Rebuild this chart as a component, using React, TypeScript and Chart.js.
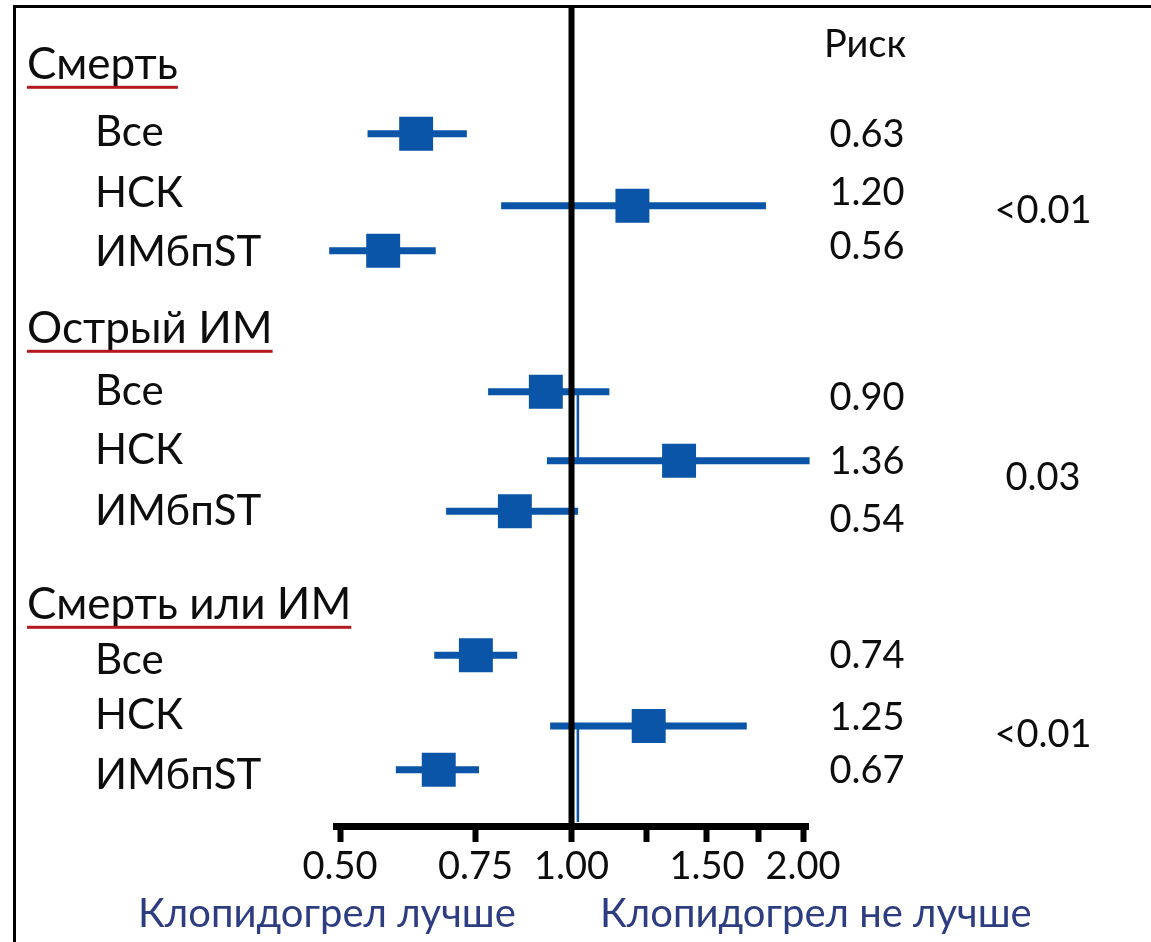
import React, { useEffect, useRef } from "react";
import { Chart, registerables } from "chart.js";
Chart.register(...registerables);

// ---------------- data ----------------
const GROUPS = ["Смерть", "Острый ИМ", "Смерть или ИМ"];
const SUBGROUPS = ["Все", "НСК", "ИМбпST"];
const RISK_TITLE = "Риск";
const RISK_LABELS = ["0.63", "1.20", "0.56", "0.90", "1.36", "0.54", "0.74", "1.25", "0.67"];
const P_VALUES = ["<0.01", "0.03", "<0.01"];
const ESTIMATES = [0.628, 1.2, 0.569, 0.926, 1.38, 0.844, 0.751, 1.26, 0.672];
const CI_LOW = [0.543, 0.81, 0.484, 0.779, 0.929, 0.687, 0.663, 0.938, 0.591];
const CI_HIGH = [0.731, 1.79, 0.666, 1.12, 2.04, 1.02, 0.85, 1.69, 0.758];
const TICK_VALUES = [0.5, 0.75, 1, 1.25, 1.5, 1.75, 2];
const TICK_LABELS = ["0.50", "0.75", "1.00", "", "1.50", "", "2.00"];
const FOOTER_LEFT = "Клопидогрел лучше";
const FOOTER_RIGHT = "Клопидогрел не лучше";

// ---------------- layout (row units on the hidden y axis) ----------------
const MARK_ROWS = [2.13, 3.33, 4.08, 6.43, 7.58, 8.42, 10.82, 12.0, 12.73];
const HEADER_ROWS = [0.98, 5.38, 9.98];
const SUB_ROWS = [2.1, 3.12, 4.1, 6.43, 7.4, 8.43, 10.9, 11.83, 12.82];
const RISK_ROWS = [2.15, 3.12, 4.02, 6.53, 7.6, 8.57, 10.83, 11.87, 12.75];
const P_ROWS = [3.42, 7.87, 12.15];
const TITLE_ROW = 0.65;

const BLUE = "#0a55a8";
const NAVY = "#2e3d82";
const RED = "#b3191e";
const FONT = "Lato, 'Open Sans', sans-serif";

const W = 1151;
const H = 942;

export default function App() {
  const ref = useRef<HTMLCanvasElement>(null);

  useEffect(() => {
    const canvas = ref.current;
    if (!canvas) return;

    const decor = {
      id: "decor",
      afterDatasetsDraw(chart: any) {
        const { ctx, chartArea, scales } = chart;
        const xs = scales.x;
        const ys = scales.y;
        ctx.save();
        // reference line at 1.00
        const x1 = xs.getPixelForValue(1);
        ctx.fillStyle = "#000";
        ctx.fillRect(x1 - 3, 6, 6, chartArea.bottom - 6);
        // thin blue connectors next to reference line
        ctx.fillStyle = BLUE;
        const cx = xs.getPixelForValue(1.02);
        const a = ys.getPixelForValue(MARK_ROWS[3]);
        const b = ys.getPixelForValue(MARK_ROWS[4]);
        ctx.fillRect(cx - 1.5, a, 2.5, b - a);
        const c = ys.getPixelForValue(MARK_ROWS[7]);
        ctx.fillRect(cx - 1.5, c, 2.5, chartArea.bottom - 4 - c);
        ctx.restore();
      },
      afterDraw(chart: any) {
        const { ctx, scales } = chart;
        const ys = scales.y;
        ctx.save();
        ctx.textBaseline = "middle";
        ctx.fillStyle = "#0d0d0d";

        // group headers with red underline
        ctx.textAlign = "left";
        ctx.font = `44px ${FONT}`;
        GROUPS.forEach((g, i) => {
          const yc = ys.getPixelForValue(HEADER_ROWS[i]);
          ctx.fillStyle = "#0d0d0d";
          ctx.fillText(g, 27, yc);
          const w = ctx.measureText(g).width;
          ctx.fillStyle = RED;
          ctx.fillRect(27, yc + 21, w, 3);
        });

        // subgroup labels
        ctx.fillStyle = "#0d0d0d";
        ctx.font = `42px ${FONT}`;
        SUB_ROWS.forEach((r, i) => {
          ctx.fillText(SUBGROUPS[i % 3], 95, ys.getPixelForValue(r));
        });

        // risk column
        ctx.textAlign = "center";
        ctx.font = `38px ${FONT}`;
        ctx.fillText(RISK_TITLE, 865, ys.getPixelForValue(TITLE_ROW));
        RISK_LABELS.forEach((t, i) => {
          ctx.fillText(t, 867, ys.getPixelForValue(RISK_ROWS[i]));
        });

        // p-values
        P_VALUES.forEach((t, i) => {
          ctx.fillText(t, 1043, ys.getPixelForValue(P_ROWS[i]));
        });

        // footer labels
        ctx.fillStyle = NAVY;
        ctx.textAlign = "left";
        ctx.font = `40px ${FONT}`;
        ctx.fillText(FOOTER_LEFT, 138, 914);
        ctx.fillText(FOOTER_RIGHT, 600, 914);

        // frame (top and left edges)
        ctx.fillStyle = "#000";
        ctx.fillRect(13, 5, 3, H - 5);
        ctx.fillRect(13, 5, W - 13, 3);
        ctx.restore();
      },
    };

    const squares = {
      data: ESTIMATES.map((v, i) => ({ x: v, y: MARK_ROWS[i] })),
      pointStyle: "rect",
      pointRadius: 24,
      pointHoverRadius: 24,
      backgroundColor: BLUE,
      borderColor: BLUE,
      borderWidth: 0,
      showLine: false,
      clip: false,
    };
    const whiskers = ESTIMATES.map((_, i) => ({
      data: [
        { x: CI_LOW[i], y: MARK_ROWS[i] },
        { x: CI_HIGH[i], y: MARK_ROWS[i] },
      ],
      showLine: true,
      borderColor: BLUE,
      borderWidth: 7,
      borderCapStyle: "butt",
      pointRadius: 0,
      pointHoverRadius: 0,
      clip: false,
    }));

    const chart = new Chart(canvas, {
      type: "scatter",
      data: { datasets: [squares, ...whiskers] as any },
      options: {
        animation: false,
        responsive: false,
        maintainAspectRatio: false,
        events: [],
        layout: { autoPadding: false, padding: { left: 336, right: W - 808, top: 6, bottom: 0 } },
        plugins: { legend: { display: false }, tooltip: { enabled: false } },
        scales: {
          x: {
            type: "logarithmic",
            position: "bottom",
            min: 0.49403,
            max: 2.0301,
            afterBuildTicks: (scale: any) => {
              scale.ticks = TICK_VALUES.map((v) => ({ value: v }));
            },
            afterFit: (scale: any) => {
              scale.height = H - 826;
            },
            ticks: {
              autoSkip: false,
              maxRotation: 0,
              minRotation: 0,
              padding: 2,
              color: "#0d0d0d",
              font: { family: FONT, size: 38 },
              callback: (_v: any, i: number) => TICK_LABELS[i],
            },
            grid: {
              drawOnChartArea: false,
              drawTicks: true,
              tickLength: 16,
              tickWidth: 6,
              tickColor: "#000",
            },
            border: { display: true, color: "#000", width: 7 },
          },
          y: {
            type: "linear",
            display: false,
            reverse: true,
            min: 0,
            max: 820 / 60,
          },
        },
      },
      plugins: [decor],
    } as any);

    return () => chart.destroy();
  }, []);

  return (
    <div style={{ position: "fixed", left: 0, top: 0, width: W, height: H, background: "#fff" }}>
      <canvas ref={ref} width={W} height={H} style={{ width: W, height: H, display: "block" }} />
    </div>
  );
}
